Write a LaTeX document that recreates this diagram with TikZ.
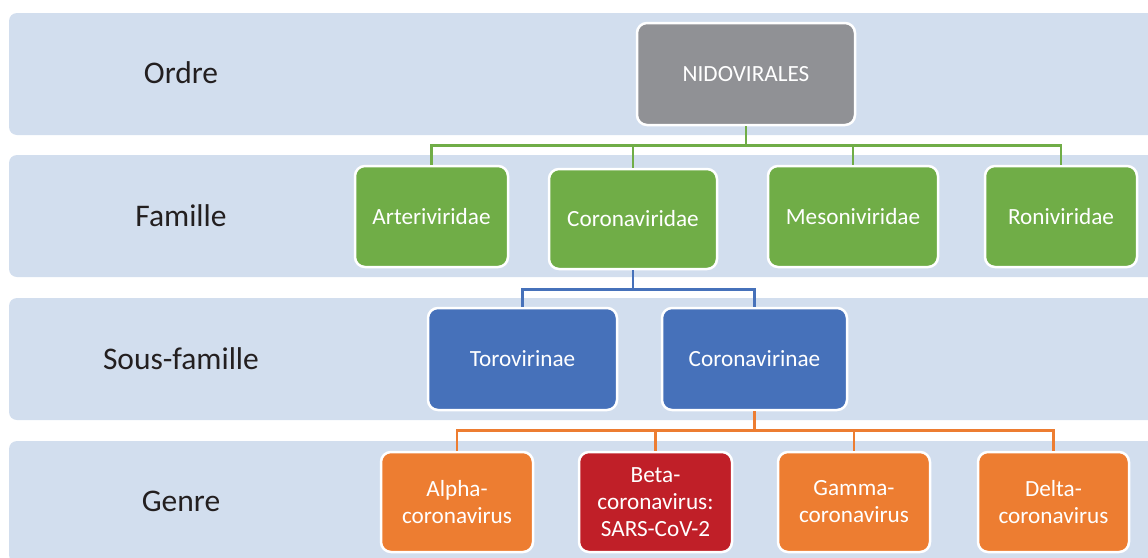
\documentclass[tikz,border=0pt]{standalone}
\usepackage{fontspec}
\setmainfont{Carlito}
\usepackage{xcolor}
\usepackage{tikz}
\definecolor{bandblue}{HTML}{D2DEEE}
\definecolor{nidogrey}{HTML}{909195}
\definecolor{famgreen}{HTML}{70AD47}
\definecolor{subblue}{HTML}{4671BA}
\definecolor{genorange}{HTML}{ED7D31}
\definecolor{betared}{HTML}{C01F28}
\definecolor{ranktext}{HTML}{231F20}

\tikzset{
	band/.style={fill=bandblue, rounded corners=8pt},
	rank/.style={text=ranktext, font=\fontsize{31.5}{36}\selectfont},
	taxon/.style={draw=white, line width=2.5pt, rounded corners=10pt, text=white, align=center, inner sep=0pt, font=\fontsize{23.2}{27}\selectfont},
	link/.style={line width=2.5pt}
}

\begin{document}
\begin{tikzpicture}[x=1pt, y=-1pt]
	\useasboundingbox (0,0) rectangle (1148,557);
	\clip (0,0) rectangle (1148,557);

	% rank bands
	\foreach \by in {13,155,298,441} {
		\fill[band] (9,\by) rectangle (1180,\by+122);
	}

	% rank labels
	\foreach \r/\y [count=\i] in {Ordre/73, Famille/216, Sous-famille/359, Genre/501} {
		\node[rank] (rank\i) at (181,\y) {\r};
	}

	% order
	\node[taxon, fill=nidogrey, minimum width=218, minimum height=102] (nido) at (746,74) {NIDOVIRALES};

	% families
	\node[taxon, fill=famgreen, minimum width=153, minimum height=101] (arte) at (431.5,216.5) {Arteriviridae};
	\node[taxon, fill=famgreen, minimum width=168, minimum height=100] (corv) at (633,219) {Coronaviridae};
	\node[taxon, fill=famgreen, minimum width=170, minimum height=101] (meso) at (853,216.5) {Mesoniviridae};
	\node[taxon, fill=famgreen, minimum width=152, minimum height=101] (roni) at (1061,216.5) {Roniviridae};

	% sub-families
	\node[taxon, fill=subblue, minimum width=189, minimum height=102] (toro) at (522.5,359) {Torovirinae};
	\node[taxon, fill=subblue, minimum width=185, minimum height=102] (cvir) at (754.5,359) {Coronavirinae};

	% genera
	\node[taxon, fill=genorange, minimum width=152, minimum height=100] (alpha) at (457,502) {Alpha-\\coronavirus};
	\node[taxon, fill=betared, minimum width=153, minimum height=100] (beta) at (655.5,502) {Beta-\\coronavirus:\\SARS-CoV-2};
	\node[taxon, fill=genorange, minimum width=152, minimum height=100] (gamma) at (854,502) {Gamma-\\coronavirus};
	\node[taxon, fill=genorange, minimum width=151, minimum height=100] (delta) at (1053.5,502) {Delta-\\coronavirus};

	% tree links
	\foreach \c in {arte,corv,meso,roni} {
		\draw[link, famgreen] (nido.south) -- ++(0,19) -| (\c.north);
	}
	\foreach \c in {toro,cvir} {
		\draw[link, subblue] (corv.south) -- ++(0,19) -| (\c.north);
	}
	\foreach \c in {alpha,beta,gamma,delta} {
		\draw[link, genorange] (cvir.south) -- ++(0,19) -| (\c.north);
	}
\end{tikzpicture}
\end{document}
